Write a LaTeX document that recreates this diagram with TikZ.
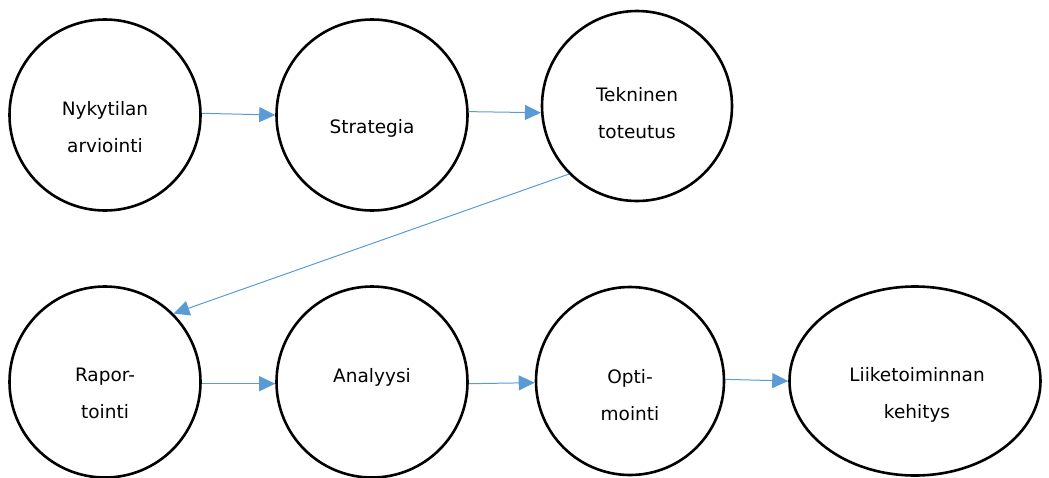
\documentclass[tikz,border=0pt]{standalone}
\usepackage{fontspec}
\setmainfont{DejaVu Sans}
\usetikzlibrary{arrows.meta,shapes.geometric}
\definecolor{arrowblue}{HTML}{5B9BD5}
\tikzset{
  stage/.style={circle, draw=black, line width=2.6pt, inner sep=0pt, minimum size=#1},
  oval/.style={ellipse, draw=black, line width=2.6pt, inner sep=0pt, minimum width=251pt, minimum height=189pt},
  lbl/.style={anchor=base, align=center, font=\fontsize{18.5}{36.7}\selectfont, inner sep=0pt},
  flow/.style={draw=arrowblue, line width=1pt, -{Triangle[length=16pt,width=15pt]}}
}
\begin{document}
\begin{tikzpicture}[x=1pt,y=-1pt]
\useasboundingbox (0,0) rectangle (1049,477);
% top row
\node[stage=191pt] (c1) at (105,115) {};
\node[stage=191pt] (c2) at (372,115) {};
\node[stage=190pt] (c3) at (637,106) {};
% bottom row
\node[stage=191pt] (d1) at (105,382) {};
\node[stage=191pt] (d2) at (372,382) {};
\node[stage=188pt] (d3) at (630,381) {};
\node[oval] (d4) at (915,381) {};
% labels (base = last line's baseline)
\node[lbl] (t1) at (105,152) {Nykytilan\\arviointi};
\node[lbl] (t2) at (372,133) {Strategia};
\node[lbl] (t3) at (637,138.5) {Tekninen\\toteutus};
\node[lbl] (u1) at (105,418.5) {Rapor-\\tointi};
\node[lbl] (u2) at (372,382) {Analyysi};
\node[lbl] (u3) at (630,420) {Opti-\\mointi};
\node[lbl] (u4) at (917,418.5) {Liiketoiminnan\\kehitys};
% connectors
\draw[flow] (c1.1) -- (c2.west);
\draw[flow] (c2.2) -- (c3.184);
\draw[flow] (c3.225) -- (d1.45);
\draw[flow] (d1.-1) -- (d2.181);
\draw[flow] (d2.-1) -- (d3.181);
\draw[flow] (d3.1) -- (d4.west);
\end{tikzpicture}
\end{document}
